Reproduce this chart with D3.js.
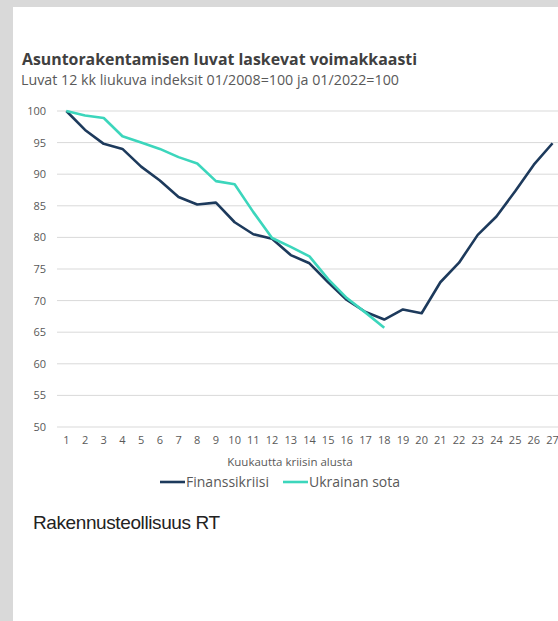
<!DOCTYPE html>
<meta charset="utf-8">
<title>Asuntorakentamisen luvat</title>
<style>
  body { margin: 0; background: #d9d9d9; }
  svg { display: block; font-family: "Open Sans", Lato, sans-serif; }
  .grid line { stroke: #d9d9d9; stroke-width: 1px; }
  .tick text { fill: #595959; font-size: 11px; font-family: "Open Sans", sans-serif; }
  .line { fill: none; stroke-width: 2.6px; stroke-linejoin: round; }
</style>
<svg width="558" height="621"></svg>
<script src="https://cdn.jsdelivr.net/npm/d3@7"></script>
<script>
  // months since start of crisis
  var months = d3.range(1, 28);
  var yTicks = [50, 55, 60, 65, 70, 75, 80, 85, 90, 95, 100];

  var finanssikriisi = [100, 97.0, 94.8, 94.0, 91.2, 89.0, 86.4, 85.2, 85.5, 82.4, 80.5,
    79.8, 77.2, 75.9, 72.9, 70.1, 68.2, 67.0, 68.6, 68.0, 72.9, 76.0, 80.4, 83.3, 87.3, 91.5, 94.9];
  var ukrainanSota = [100, 99.3, 98.9, 96.0, 95.0, 94.0, 92.7, 91.7, 88.9, 88.4, 84.0,
    79.9, 78.5, 77.0, 73.4, 70.4, 68.1, 65.7];

  var series = [
    { name: "Finanssikriisi", values: finanssikriisi, color: "#1d3a5c" },
    { name: "Ukrainan sota", values: ukrainanSota, color: "#3cd6bc" }
  ];

  var svg = d3.select("svg");

  svg.append("rect")
    .attr("x", 13).attr("y", 7)
    .attr("width", 545).attr("height", 614)
    .attr("fill", "#fff");

  svg.append("text")
    .attr("x", 22).attr("y", 65)
    .attr("fill", "#404040")
    .style("font-size", "16px").style("font-weight", "bold")
    .attr("textLength", 395).attr("lengthAdjust", "spacingAndGlyphs")
    .text("Asuntorakentamisen luvat laskevat voimakkaasti");

  svg.append("text")
    .attr("x", 21).attr("y", 85)
    .attr("fill", "#595959")
    .style("font-size", "14px")
    .attr("textLength", 378).attr("lengthAdjust", "spacingAndGlyphs")
    .text("Luvat 12 kk liukuva indeksit 01/2008=100 ja 01/2022=100");

  var left = 57, bw = 18.7;
  var x = d3.scaleBand()
    .domain(months)
    .range([left, left + bw * months.length]);

  var y = d3.scaleLinear()
    .domain([50, 100])
    .range([427, 111]);

  // gridlines
  svg.append("g")
    .attr("class", "grid")
    .selectAll("line")
    .data(yTicks)
    .join("line")
    .attr("x1", left).attr("x2", 558)
    .attr("y1", d => y(d)).attr("y2", d => y(d));

  var yAxis = svg.append("g")
    .attr("transform", "translate(46,0)")
    .call(d3.axisLeft(y).tickValues(yTicks).tickSize(0).tickPadding(0));
  yAxis.select(".domain").remove();

  var xAxis = svg.append("g")
    .attr("transform", "translate(0,436)")
    .call(d3.axisBottom(x).tickSize(0).tickPadding(0));
  xAxis.select(".domain").remove();
  xAxis.selectAll("text").attr("dy", "0.71em").attr("y", 0);

  svg.append("text")
    .attr("x", 290).attr("y", 466)
    .attr("text-anchor", "middle")
    .attr("fill", "#595959")
    .style("font-size", "11.5px")
    .text("Kuukautta kriisin alusta");

  var line = d3.line()
    .x((d, i) => x(months[i]) + x.bandwidth() / 2)
    .y(d => y(d));

  svg.append("g")
    .selectAll("path")
    .data(series)
    .join("path")
    .attr("class", "line")
    .attr("stroke", d => d.color)
    .attr("d", d => line(d.values));

  // legend
  var legendX = [160, 283];
  var legend = svg.append("g")
    .selectAll("g")
    .data(series)
    .join("g")
    .attr("transform", (d, i) => "translate(" + legendX[i] + ",482)");
  legend.append("line")
    .attr("x1", 0).attr("x2", 25)
    .attr("stroke", d => d.color)
    .attr("stroke-width", 2.6);
  legend.append("text")
    .attr("x", 26).attr("dy", "0.36em")
    .attr("fill", "#595959")
    .style("font-size", "14px")
    .text(d => d.name);

  svg.append("text")
    .attr("x", 33).attr("y", 529)
    .attr("fill", "#222")
    .style("font-family", "'Liberation Sans', sans-serif")
    .style("font-size", "19px")
    .style("letter-spacing", "-0.4px")
    .text("Rakennusteollisuus RT");
</script>
